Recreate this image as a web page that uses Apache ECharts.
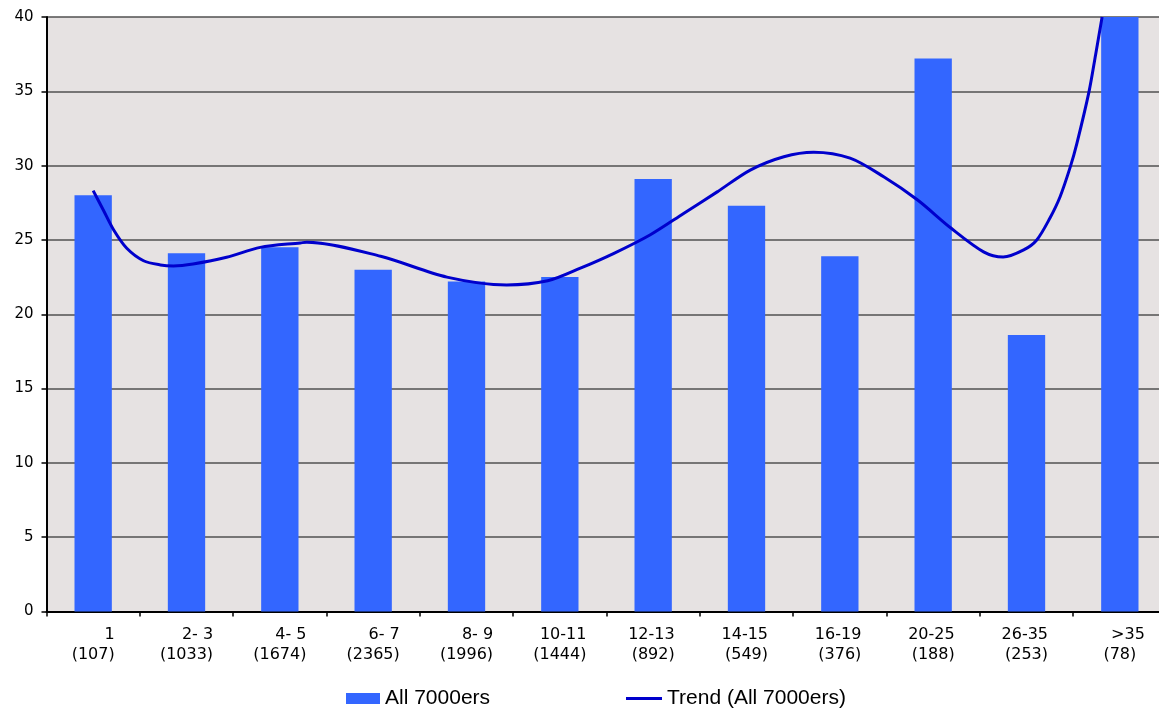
<!DOCTYPE html>
<html>
<head>
<meta charset="utf-8">
<script src="https://cdn.jsdelivr.net/npm/echarts@6/dist/echarts.min.js"></script>
<style>
  html, body { margin: 0; padding: 0; background: #ffffff; }
  #chart { width: 1159px; height: 711px; }
</style>
</head>
<body>
<div id="chart"></div>
<script>
// Category labels: range (number of summiteers)
const rangeLabels = ['1', '2- 3', '4- 5', '6- 7', '8- 9', '10-11', '12-13', '14-15', '16-19', '20-25', '26-35', '>35'];
const countLabels = ['(107)', '(1033)', '(1674)', '(2365)', '(1996)', '(1444)', '(892)', '(549)', '(376)', '(188)', '(253)', '(78)'];

// Bar values: All 7000ers
const barValues = [28.0, 24.1, 24.5, 23.0, 22.2, 22.5, 29.1, 27.3, 23.9, 37.2, 18.6, 40];

// Trend line: position in category units (0 = first category centre) and value
const trendPos = [0.00, 0.11, 0.22, 0.36, 0.54, 0.72, 0.86, 1.07, 1.43, 1.79, 2.22, 2.29, 3.08, 3.79, 4.43, 4.87, 5.22, 5.58, 5.97, 6.33, 6.69, 7.04, 7.40, 7.72, 8.11, 8.47, 8.83, 9.19, 9.54, 9.75, 9.97, 10.11, 10.25, 10.36, 10.47, 10.54, 10.67, 10.74, 10.81];
const trendVal = [28.32, 27.0, 25.67, 24.44, 23.6, 23.32, 23.25, 23.38, 23.83, 24.5, 24.8, 24.85, 23.9, 22.5, 21.97, 22.25, 23.1, 24.1, 25.35, 26.8, 28.25, 29.7, 30.6, 30.9, 30.5, 29.25, 27.7, 25.8, 24.2, 23.85, 24.33, 25.0, 26.46, 27.91, 29.93, 31.5, 34.98, 37.45, 40.0];

// Y axis ticks
const yMin = 0, yMax = 40, yStep = 5;

const categories = rangeLabels.map((r, i) => r + '\n' + countLabels[i]);
const trendData = trendPos.map((p, i) => [p, trendVal[i]]);

const chart = echarts.init(document.getElementById('chart'), null, { renderer: 'canvas' });
const labelFont = { fontFamily: 'DejaVu Sans', fontSize: 16, lineHeight: 20, color: '#000' };
const option = {
  backgroundColor: '#ffffff',
  animation: false,
  grid: {
    left: 46.5, top: 17, width: 1120, height: 594.5,
    outerBoundsMode: 'none',
    containLabel: false,
    show: true, backgroundColor: '#e6e2e2', borderWidth: 0
  },
  legend: [
    {
      data: [{ name: 'All 7000ers', icon: 'rect' }],
      left: 346, top: 688, padding: 0,
      itemWidth: 34, itemHeight: 11,
      textStyle: { fontFamily: 'Liberation Sans', fontSize: 21, color: '#000' }
    },
    {
      data: [{ name: 'Trend (All 7000ers)', icon: 'rect' }],
      left: 626, top: 688, padding: 0,
      itemWidth: 36, itemHeight: 3,
      textStyle: { fontFamily: 'Liberation Sans', fontSize: 21, color: '#000' }
    }
  ],
  xAxis: [
    {
      type: 'category',
      data: categories,
      boundaryGap: true,
      axisLine: { show: true, lineStyle: { color: '#000', width: 2 } },
      axisTick: { show: true, length: 5, lineStyle: { color: '#000', width: 1.5 } },
      splitLine: { show: false },
      axisLabel: Object.assign({
        interval: 0,
        margin: 13,
        formatter: function (v) {
          const parts = v.split('\n');
          const first = parts[0] === '>35' ? '{c|' + parts[0] + '}' : '{a|' + parts[0] + '}';
          return first + '\n{b|' + parts[1] + '}';
        },
        rich: {
          a: Object.assign({ width: 40, align: 'right' }, labelFont),
          c: Object.assign({ width: 50, align: 'right' }, labelFont),
          b: Object.assign({}, labelFont)
        }
      }, labelFont)
    },
    {
      type: 'value',
      min: -0.5, max: 11.5,
      show: false
    }
  ],
  yAxis: {
    type: 'value',
    min: yMin, max: yMax, interval: yStep,
    axisLine: { show: true, onZero: false, lineStyle: { color: '#000', width: 2 } },
    axisTick: { show: true, length: 5, lineStyle: { color: '#000', width: 1.5 } },
    splitLine: { show: true, lineStyle: { color: '#505050', width: 1.5 } },
    axisLabel: { color: '#000', fontFamily: 'DejaVu Sans', fontSize: 15, margin: 13 }
  },
  series: [
    {
      name: 'All 7000ers',
      type: 'bar',
      xAxisIndex: 0,
      data: barValues,
      barWidth: '40%',
      itemStyle: { color: '#3366ff' },
      z: 2
    },
    {
      name: 'Trend (All 7000ers)',
      type: 'line',
      xAxisIndex: 1,
      data: trendData,
      smooth: 0.3,
      symbol: 'none',
      lineStyle: { color: '#0000cc', width: 3 },
      itemStyle: { color: '#0000cc' },
      clip: true,
      z: 3
    }
  ]
};
chart.setOption(option);
</script>
</body>
</html>
